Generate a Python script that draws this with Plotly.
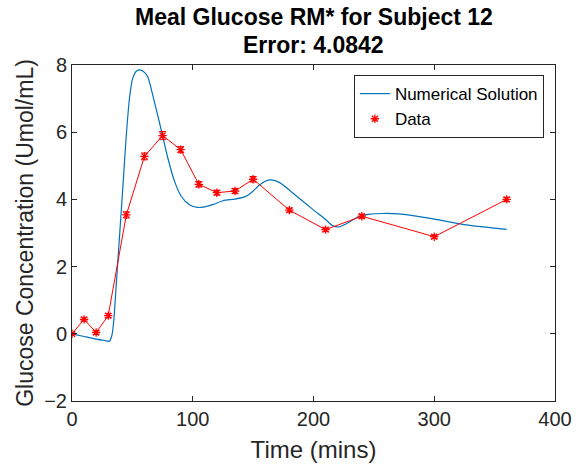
import plotly.graph_objects as go

# Measured glucose samples (time in minutes, concentration, error bar half-width)
data_t = [0, 10, 20, 30, 45, 60, 75, 90, 105, 120, 135, 150, 180, 210, 240, 300, 360]
data_y = [0.00, 0.43, 0.04, 0.54, 3.54, 5.28, 5.90, 5.48, 4.45, 4.20, 4.25, 4.60, 3.68, 3.10, 3.50, 2.89, 4.00]
data_err = [0.03, 0.05, 0.05, 0.06, 0.09, 0.10, 0.12, 0.09, 0.08, 0.07, 0.07, 0.08, 0.06, 0.05, 0.06, 0.05, 0.06]

# Model output sampled along the simulation time
sol_t = [0, 10, 19, 27, 31, 33, 34.5, 36.5, 39.3, 42.1, 44.8, 47.6, 50.3, 53.5, 57.2,
         60, 62.7, 68.2, 73.8, 79.3, 84.8, 90.3, 97.2, 104, 110, 117, 125, 135, 144,
         150, 155, 160, 165, 172, 182.6, 199.2, 210, 215.7, 221, 226.8, 237.8, 247,
         257, 270, 298, 326, 360]
sol_y = [0.00, -0.08, -0.15, -0.20, -0.22, -0.05, 0.35, 1.39, 2.87, 4.35, 5.83, 7.01, 7.61, 7.82, 7.85,
         7.78, 7.65, 6.91, 6.08, 5.24, 4.55, 4.10, 3.84, 3.76, 3.78, 3.85, 3.96, 4.01, 4.09,
         4.25, 4.42, 4.54, 4.58, 4.50, 4.20, 3.71, 3.40, 3.22, 3.18, 3.27, 3.49, 3.56,
         3.58, 3.57, 3.43, 3.24, 3.11]

x_ticks = [0, 100, 200, 300, 400]
y_ticks = [-2, 0, 2, 4, 6, 8]

title_lines = ["Meal Glucose RM* for Subject 12", "Error: 4.0842"]

BLUE = "#0072BD"
RED = "#FF0000"
AXIS = "#262626"
FONT = "Liberation Sans, Arial, Helvetica, sans-serif"

fig = go.Figure()

fig.add_trace(go.Scatter(
    x=sol_t, y=sol_y, mode="lines", name="Numerical Solution",
    line=dict(color=BLUE, width=1.2, shape="spline", smoothing=0.7),
))

# connecting line between samples (kept out of the legend)
fig.add_trace(go.Scatter(
    x=data_t, y=data_y, mode="lines", showlegend=False, hoverinfo="skip",
    line=dict(color=RED, width=1),
))

fig.add_trace(go.Scatter(
    x=data_t, y=data_y, mode="markers", name="Data",
    marker=dict(symbol="asterisk-open", size=7, color=RED,
                line=dict(color=RED, width=1.3)),
    error_y=dict(type="data", array=data_err, visible=True,
                 color=RED, thickness=1, width=3.5),
))

axis_common = dict(
    showline=True, linecolor=AXIS, linewidth=1, mirror="ticks",
    ticks="inside", ticklen=5, tickcolor=AXIS, tickwidth=1,
    showgrid=False, zeroline=False,
    tickfont=dict(family=FONT, size=20, color=AXIS),
)

# two-line bold title above the axes
title_annotations = [
    dict(text=f"<b>{line}</b>", xref="paper", yref="paper", x=0.5, y=1,
         xanchor="center", yanchor="middle", yshift=shift, showarrow=False,
         font=dict(family=FONT, size=23, color="black"))
    for line, shift in zip(title_lines, [48, 20])
]

fig.update_layout(
    width=584, height=471,
    margin=dict(l=72, r=28, t=65, b=68),
    paper_bgcolor="white", plot_bgcolor="white",
    annotations=title_annotations,
    xaxis=dict(
        range=[0, 400], tickvals=x_ticks,
        title=dict(text="Time (mins)", font=dict(family=FONT, size=24, color=AXIS), standoff=12),
        **axis_common,
    ),
    yaxis=dict(
        range=[-2, 8], tickvals=y_ticks,
        title=dict(text="Glucose Concentration (Umol/mL)", font=dict(family=FONT, size=23, color=AXIS), standoff=4),
        **axis_common,
    ),
    legend=dict(
        x=0.977, y=0.97, xanchor="right", yanchor="top",
        bgcolor="white", bordercolor=AXIS, borderwidth=1,
        font=dict(family=FONT, size=17, color="black"),
        tracegroupgap=0, itemwidth=30,
    ),
    showlegend=True,
)

fig.write_html("out.html")
